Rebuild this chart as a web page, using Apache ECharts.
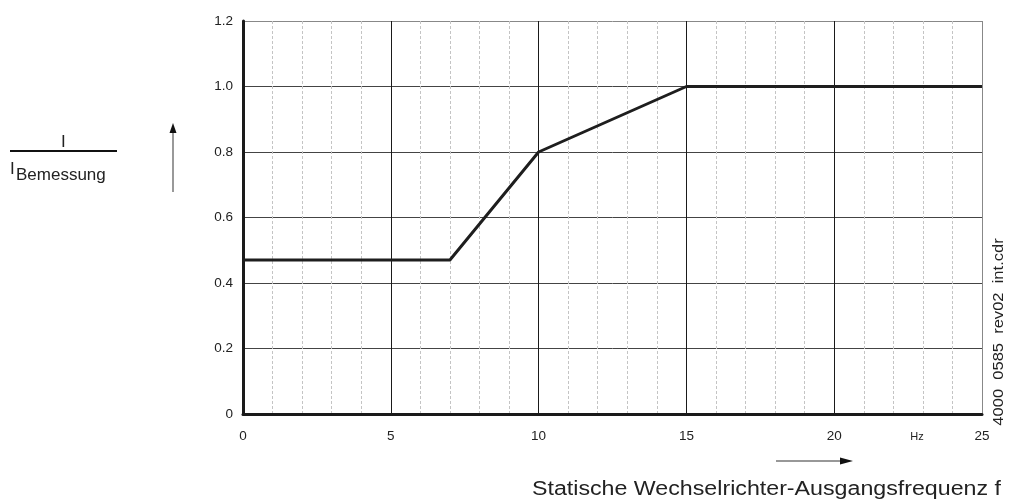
<!DOCTYPE html>
<html><head><meta charset="utf-8">
<script src="https://cdn.jsdelivr.net/npm/echarts@6/dist/echarts.min.js"></script>
<style>html,body{margin:0;padding:0;background:#fff}#c{width:1012px;height:499px}</style>
</head><body><div id="c"></div>
<script>
const freqHz = [0, 7, 10, 15, 25];
const currentRatio = [0.47, 0.47, 0.8, 1.0, 1.0];
const xTicks = [0, 5, 10, 15, 20, 25];
const yTicks = [0, 0.2, 0.4, 0.6, 0.8, 1.0, 1.2];
const yLabel = { num: 'I', base: 'I', sub: 'Bemessung' };
const xTitle = 'Statische Wechselrichter-Ausgangsfrequenz f';
const unitLabel = 'Hz';
const docId = '4000  0585  rev02  int.cdr';

const FONT = 'Liberation Sans, Arial, sans-serif';
const chart = echarts.init(document.getElementById('c'), null, {renderer: 'canvas'});
const points = freqHz.map((f, i) => [f, currentRatio[i]]);

chart.setOption({
  animation: false,
  grid: { left: 243, right: 30, top: 21, bottom: 85 },
  xAxis: {
    type: 'value', min: xTicks[0], max: xTicks[xTicks.length - 1], interval: 5,
    axisLine: { show: true, onZero: false, lineStyle: { color: '#1a1a1a', width: 3 } },
    axisTick: { show: false },
    axisLabel: { color: '#222', fontSize: 13.5, fontFamily: FONT, margin: 15 },
    splitLine: { show: true, lineStyle: { color: ['#1a1a1a','#1a1a1a','#1a1a1a','#1a1a1a','#1a1a1a','#888'], width: 1 } },
    minorTick: { show: false, splitNumber: 5 },
    minorSplitLine: { show: true, lineStyle: { color: '#c4c4c4', type: [3, 2], width: 1 } }
  },
  yAxis: {
    type: 'value', min: yTicks[0], max: yTicks[yTicks.length - 1], interval: 0.2,
    axisLine: { show: true, lineStyle: { color: '#1a1a1a', width: 3 } },
    axisTick: { show: false },
    axisLabel: { color: '#222', fontSize: 13.5, fontFamily: FONT, margin: 10,
      formatter: v => v === 0 ? '0' : v.toFixed(1) },
    splitLine: { show: true, lineStyle: { color: ['#444','#444','#444','#444','#444','#444','#888'], width: 1 } }
  },
  series: [{
    type: 'line', data: points, symbol: 'none',
    lineStyle: { color: '#1e1e1e', width: 3 }, z: 5
  }],
  graphic: [
    { type: 'text', left: 61, top: 134, style: { text: yLabel.num, font: '17px ' + FONT, fill: '#222' } },
    { type: 'line', shape: { x1: 10, y1: 151, x2: 117, y2: 151 }, style: { stroke: '#111', lineWidth: 2 } },
    { type: 'text', left: 10, top: 161, style: { text: yLabel.base, font: '17px ' + FONT, fill: '#222' } },
    { type: 'text', left: 16, top: 167, style: { text: yLabel.sub, font: '17px ' + FONT, fill: '#222' } },
    { type: 'line', shape: { x1: 173, y1: 192, x2: 173, y2: 130 }, style: { stroke: '#555', lineWidth: 1.2 } },
    { type: 'polygon', shape: { points: [[169.5, 133], [176.5, 133], [173, 123]] }, style: { fill: '#111' } },
    { type: 'line', shape: { x1: 776, y1: 461, x2: 842, y2: 461 }, style: { stroke: '#333', lineWidth: 1.2 } },
    { type: 'polygon', shape: { points: [[840, 457.5], [840, 464.5], [853, 461]] }, style: { fill: '#111' } },
    { type: 'text', x: 532, y: 489, scaleX: 1.16, style: { text: xTitle, font: '20px ' + FONT, fill: '#222', align: 'left', verticalAlign: 'middle' } },
    { type: 'text', x: 917, y: 437, style: { text: unitLabel, font: '11px ' + FONT, fill: '#222', align: 'center', verticalAlign: 'middle' } },
    { type: 'text', x: 999, y: 332, rotation: Math.PI / 2, scaleX: 1.18, style: { text: docId, font: '14px ' + FONT, fill: '#222', align: 'center', verticalAlign: 'middle' } }
  ]
});
</script></body></html>
